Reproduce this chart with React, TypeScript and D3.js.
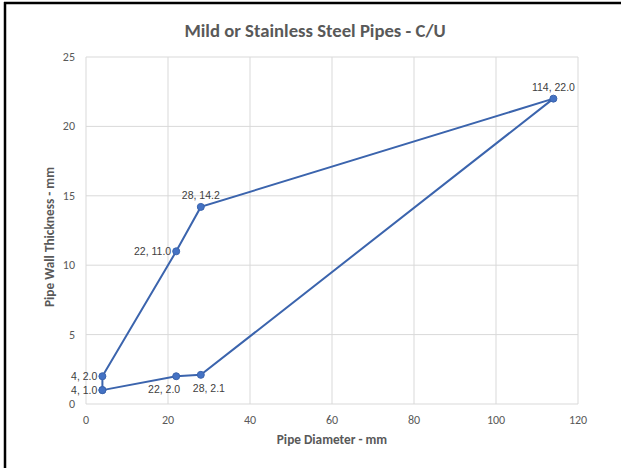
import React, { useRef, useEffect } from "react";
import * as d3 from "d3";

// pipe diameter (mm) and wall thickness (mm), in drawing order
const diameters = [4, 4, 22, 28, 114, 28, 22, 4];
const thickness = [1.0, 2.0, 11.0, 14.2, 22.0, 2.1, 2.0, 1.0];
// where each data label sits relative to its point
const labelPos = ["left", "left", "left", "above", "above", "belowRight", "belowLeft", "none"];
const xTicks = [0, 20, 40, 60, 80, 100, 120];
const yTicks = [0, 5, 10, 15, 20, 25];

const App: React.FC = () => {
  const svgRef = useRef<SVGSVGElement>(null);

  useEffect(() => {
    if (!svgRef.current) return;
    const width = 621;
    const height = 468;
    const svg = d3.select(svgRef.current);
    svg.selectAll("*").remove();

    const x = d3.scaleLinear().domain([0, 120]).range([86, 578]);
    const y = d3.scaleLinear().domain([0, 25]).range([404, 57]);
    const gridColor = "#d9d9d9";
    const textColor = "#595959";
    const font = "Carlito, 'Open Sans', sans-serif";

    svg.append("rect").attr("width", width).attr("height", height).attr("fill", "#fff");
    // black frame on the left and top
    svg.append("line").attr("x1", 5).attr("x2", 5).attr("y1", 2).attr("y2", height).attr("stroke", "#000").attr("stroke-width", 2.5);
    svg.append("line").attr("x1", 4).attr("x2", width).attr("y1", 3).attr("y2", 3).attr("stroke", "#000").attr("stroke-width", 2.5);

    // grid
    svg.append("g")
      .selectAll("line")
      .data(xTicks)
      .join("line")
      .attr("x1", (d) => x(d))
      .attr("x2", (d) => x(d))
      .attr("y1", y(25))
      .attr("y2", y(0))
      .attr("stroke", gridColor);
    svg.append("g")
      .selectAll("line")
      .data(yTicks)
      .join("line")
      .attr("x1", x(0))
      .attr("x2", x(120))
      .attr("y1", (d) => y(d))
      .attr("y2", (d) => y(d))
      .attr("stroke", gridColor);

    // tick labels
    svg.append("g")
      .selectAll("text")
      .data(xTicks)
      .join("text")
      .attr("x", (d) => x(d))
      .attr("y", 424)
      .attr("text-anchor", "middle")
      .attr("font-family", font)
      .attr("font-size", 12)
      .attr("fill", textColor)
      .text((d) => d);
    svg.append("g")
      .selectAll("text")
      .data(yTicks)
      .join("text")
      .attr("x", 75)
      .attr("y", (d) => y(d) + 4)
      .attr("text-anchor", "end")
      .attr("font-family", font)
      .attr("font-size", 12)
      .attr("fill", textColor)
      .text((d) => d);

    // titles
    svg.append("text")
      .attr("x", 315)
      .attr("y", 37)
      .attr("text-anchor", "middle")
      .attr("font-family", font)
      .attr("font-size", 18.7)
      .attr("font-weight", "bold")
      .attr("fill", textColor)
      .text("Mild or Stainless Steel Pipes - C/U");
    svg.append("text")
      .attr("x", 332)
      .attr("y", 444)
      .attr("text-anchor", "middle")
      .attr("font-family", font)
      .attr("font-size", 13.3)
      .attr("font-weight", "bold")
      .attr("fill", textColor)
      .text("Pipe Diameter - mm");
    svg.append("text")
      .attr("transform", `translate(54,237) rotate(-90)`)
      .attr("text-anchor", "middle")
      .attr("font-family", font)
      .attr("font-size", 13.3)
      .attr("font-weight", "bold")
      .attr("fill", textColor)
      .text("Pipe Wall Thickness - mm");

    const pts = diameters.map((d, i) => ({ dx: d, t: thickness[i], pos: labelPos[i] }));
    const line = d3.line<any>().x((d) => x(d.dx)).y((d) => y(d.t));
    const blue = "#3b64ad";

    svg.append("path")
      .datum(pts)
      .attr("d", line)
      .attr("fill", "none")
      .attr("stroke", blue)
      .attr("stroke-width", 2);

    svg.append("g")
      .selectAll("circle")
      .data(pts)
      .join("circle")
      .attr("cx", (d) => x(d.dx))
      .attr("cy", (d) => y(d.t))
      .attr("r", 3.5)
      .attr("fill", "#4472c4")
      .attr("stroke", blue);

    svg.append("g")
      .selectAll("text")
      .data(pts.filter((d) => d.pos !== "none"))
      .join("text")
      .attr("font-family", "Arial, 'Liberation Sans', sans-serif")
      .attr("font-size", 10.5)
      .attr("fill", "#404040")
      .attr("x", (d) => {
        const px = x(d.dx);
        if (d.pos === "left") return px - 5;
        if (d.pos === "belowLeft") return px + 4;
        if (d.pos === "belowRight") return px - 8;
        return px;
      })
      .attr("y", (d) => {
        const py = y(d.t);
        if (d.pos === "left") return py + 3.5;
        if (d.pos === "above") return py - 8;
        return py + 17;
      })
      .attr("text-anchor", (d) =>
        d.pos === "left" || d.pos === "belowLeft" ? "end" : d.pos === "above" ? "middle" : "start"
      )
      .text((d) => `${d.dx}, ${d.t.toFixed(1)}`);
  }, []);

  return (
    <svg
      ref={svgRef}
      width={621}
      height={468}
      style={{ position: "absolute", left: 0, top: 0, display: "block" }}
    ></svg>
  );
};

export default App;
